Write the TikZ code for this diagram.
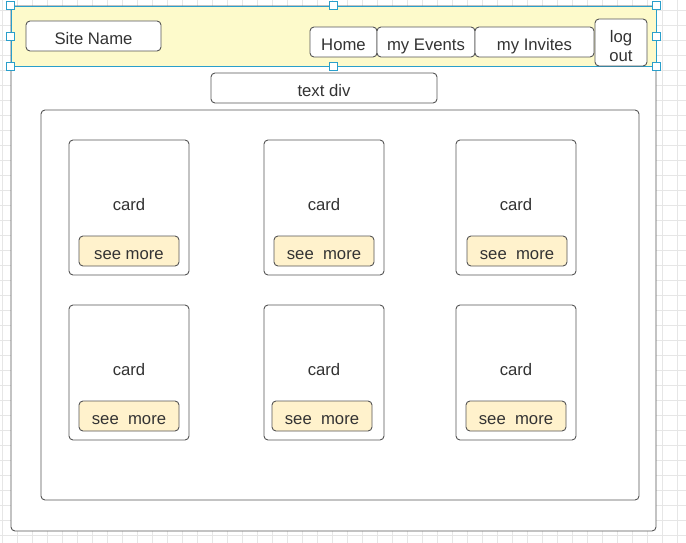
\documentclass[tikz,border=0pt]{standalone}
\usepackage{fontspec}
\setmainfont{Liberation Sans}
\definecolor{gridGray}{HTML}{E6E6E6}
\definecolor{lineGray}{HTML}{555555}
\definecolor{textGray}{HTML}{333333}
\definecolor{headerYellow}{HTML}{FDFACB}
\definecolor{buttonCream}{HTML}{FFF2CC}
\definecolor{selectBlue}{HTML}{2A9FCB}

\newcommand{\cardW}{120}
\newcommand{\cardH}{135}
\newcommand{\moreW}{100}
\newcommand{\moreH}{30}
\newcommand{\rowOneY}{207.5}
\newcommand{\rowTwoY}{372.5}
\newcommand{\moreOneY}{251}
\newcommand{\moreTwoY}{416}

\tikzset{
  box/.style={draw=lineGray, line width=0.9pt, rounded corners=4pt, fill=white,
    inner sep=0pt, text=textGray, font=\fontsize{16.7}{19.5}\selectfont, align=center,
    text height=16.5pt, text depth=0pt},
  card/.style={box, text height=12.3pt, text depth=6pt, minimum width=\cardW, minimum height=\cardH},
  more/.style={box, text height=16pt, fill=buttonCream, minimum width=\moreW, minimum height=\moreH},
  handle/.style={draw=selectBlue, line width=0.9pt, fill=white, minimum size=8pt, inner sep=0pt}
}

\begin{document}
\begin{tikzpicture}[x=1pt, y=-1pt]
        \useasboundingbox (0,0) rectangle (686,543);

        % Background grid
        \foreach \gx in {2.5,17.5,...,686} {\draw [gridGray, line width=0.6pt] (\gx,0) -- (\gx,543);}
        \foreach \gy in {10,25,...,543} {\draw [gridGray, line width=0.6pt] (0,\gy) -- (686,\gy);}

        % Page and header
        \node[box, minimum width=645, minimum height=525] (page) at (333.5,268.5) {};
        \node[draw=selectBlue, line width=0.9pt, fill=headerYellow, inner sep=0pt, minimum width=645, minimum height=60] (header) at (333.5,36) {};

        % Header buttons
        \node[box, minimum width=135, minimum height=30] (siteName) at (93.5,36) {Site Name};
        \node[box, minimum width=67, minimum height=30] (homeBtn) at (343.5,42) {Home};
        \node[box, minimum width=98, minimum height=30] (eventsBtn) at (426,42) {my Events};
        \node[box, minimum width=119, minimum height=30] (invitesBtn) at (534.5,42) {my Invites};
        \node[box, text height=39pt, minimum width=52, minimum height=47] (logoutBtn) at (621,42.5) {log\\out};

        % Selection handles
        \node[handle] (handleNW) at (header.north west) {};
        \node[handle] (handleN) at (header.north) {};
        \node[handle] (handleNE) at (header.north east) {};
        \node[handle] (handleW) at (header.west) {};
        \node[handle] (handleE) at (header.east) {};
        \node[handle] (handleSW) at (header.south west) {};
        \node[handle] (handleS) at (header.south) {};
        \node[handle] (handleSE) at (header.south east) {};

        % Text div and container
        \node[box, minimum width=226, minimum height=30] (textDiv) at (324,88) {text div};
        \node[box, minimum width=598, minimum height=390] (container) at (340,305) {};

        % First row of cards
        \node[card] (cardOne) at (129,\rowOneY) {card};
        \node[card] (cardTwo) at (324,\rowOneY) {card};
        \node[card] (cardThree) at (516,\rowOneY) {card};
        \node[more] (moreOne) at (129,\moreOneY) {see more};
        \node[more] (moreTwo) at (324,\moreOneY) {see\ \ more};
        \node[more] (moreThree) at (517,\moreOneY) {see\ \ more};

        % Second row of cards
        \node[card] (cardFour) at (129,\rowTwoY) {card};
        \node[card] (cardFive) at (324,\rowTwoY) {card};
        \node[card] (cardSix) at (516,\rowTwoY) {card};
        \node[more] (moreFour) at (129,\moreTwoY) {see\ \ more};
        \node[more] (moreFive) at (322,\moreTwoY) {see\ \ more};
        \node[more] (moreSix) at (516,\moreTwoY) {see\ \ more};
    \end{tikzpicture}
\end{document}
